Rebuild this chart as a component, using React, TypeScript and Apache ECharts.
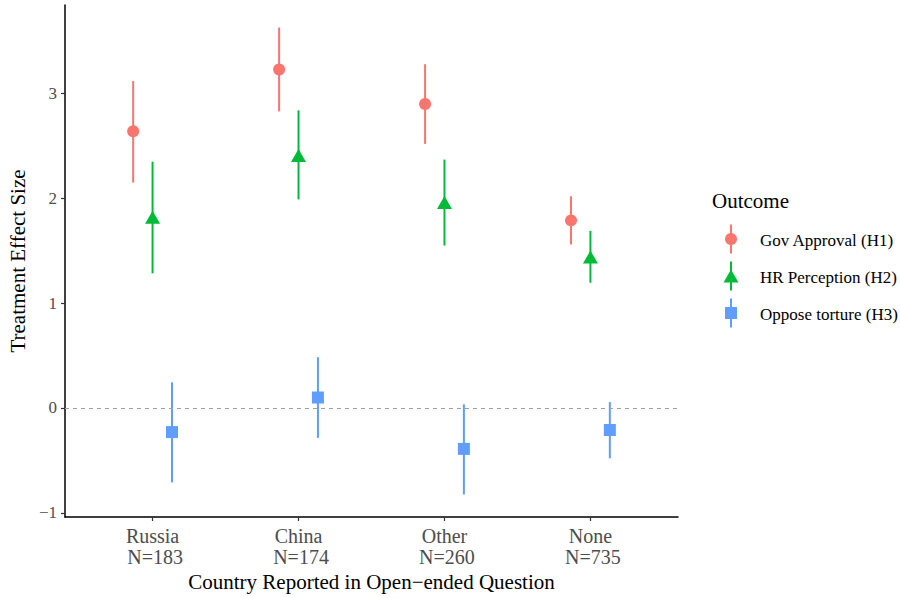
import React, { useEffect, useRef } from "react";
import * as echarts from "echarts";

const categories = ["Russia", "China", "Other", "None"];
const sampleSizes = ["N=183", "N=174", "N=260", "N=735"];
const outcomes = ["Gov Approval (H1)", "HR Perception (H2)", "Oppose torture (H3)"];

const govEst = [2.64, 3.23, 2.9, 1.79];
const govLo = [2.15, 2.83, 2.52, 1.56];
const govHi = [3.12, 3.63, 3.28, 2.02];

const hrEst = [1.82, 2.41, 1.96, 1.44];
const hrLo = [1.285, 1.99, 1.55, 1.195];
const hrHi = [2.35, 2.84, 2.37, 1.69];

const tortEst = [-0.23, 0.1, -0.39, -0.21];
const tortLo = [-0.71, -0.285, -0.825, -0.48];
const tortHi = [0.245, 0.485, 0.035, 0.057];

const yTicks = [-1, 0, 1, 2, 3];
const xTicks = [1, 2, 3, 4];

const colors = ["#F8766D", "#00BA38", "#619CFF"];
const symbols = ["circle", "triangle", "rect"];
const symbolSizes: any[] = [12, [15, 13], 12];
const dodge = [-0.133, 0, 0.133];
const FONT = "'Liberation Serif', 'DejaVu Serif', serif";

export default function App() {
  const ref = useRef<HTMLDivElement>(null);
  useEffect(() => {
    if (!ref.current) return;
    const chart = echarts.init(ref.current, null, { renderer: "svg" });
    const groups = [
      { est: govEst, lo: govLo, hi: govHi },
      { est: hrEst, lo: hrLo, hi: hrHi },
      { est: tortEst, lo: tortLo, hi: tortHi },
    ];
    const series: any[] = [];
    groups.forEach((g, gi) => {
      series.push({
        type: "custom",
        name: outcomes[gi] + " CI",
        z: 2,
        silent: true,
        data: categories.map((_, i) => [i + 1 + dodge[gi], g.lo[i], g.hi[i]]),
        encode: { x: 0, y: [1, 2] },
        renderItem: (params: any, api: any) => {
          const p1 = api.coord([api.value(0), api.value(1)]);
          const p2 = api.coord([api.value(0), api.value(2)]);
          return {
            type: "line",
            shape: { x1: p1[0], y1: p1[1], x2: p2[0], y2: p2[1] },
            style: { stroke: colors[gi], lineWidth: 2 },
          };
        },
      });
      series.push({
        type: "scatter",
        name: outcomes[gi],
        z: 3,
        symbol: symbols[gi],
        symbolSize: symbolSizes[gi],
        itemStyle: { color: colors[gi], opacity: 1 },
        data: categories.map((_, i) => [i + 1 + dodge[gi], g.est[i]]),
        ...(gi === 0
          ? {
              markLine: {
                silent: true,
                symbol: "none",
                label: { show: false },
                lineStyle: { type: [4, 4], color: "#A0A0A0", width: 1 },
                data: [{ yAxis: 0 }],
              },
            }
          : {}),
      });
    });

    const legendGraphics: any[] = [];
    const kx = 731;
    const rows = [239, 276, 313];
    legendGraphics.push({
      type: "text",
      left: 712,
      top: 190,
      style: { text: "Outcome", font: `21px ${FONT}`, fill: "#000" },
    });
    outcomes.forEach((o, i) => {
      const c = rows[i];
      legendGraphics.push({
        type: "line",
        shape: { x1: kx, y1: c - 14.5, x2: kx, y2: c + 14.5 },
        style: { stroke: colors[i], lineWidth: 2 },
      });
      if (i === 0) {
        legendGraphics.push({
          type: "circle",
          shape: { cx: kx, cy: c, r: 6 },
          style: { fill: colors[i] },
        });
      } else if (i === 1) {
        legendGraphics.push({
          type: "polygon",
          shape: {
            points: [
              [kx - 7.5, c + 6.5],
              [kx + 7.5, c + 6.5],
              [kx, c - 6.5],
            ],
          },
          style: { fill: colors[i] },
        });
      } else {
        legendGraphics.push({
          type: "rect",
          shape: { x: kx - 6, y: c - 6, width: 12, height: 12 },
          style: { fill: colors[i] },
        });
      }
      legendGraphics.push({
        type: "text",
        x: 760,
        y: c + 1.5,
        style: {
          text: o,
          font: `17px ${FONT}`,
          fill: "#000",
          verticalAlign: "middle",
          align: "left",
        },
      });
    });

    chart.setOption({
      animation: false,
      textStyle: { fontFamily: FONT },
      grid: {
        left: 65,
        right: 222,
        top: 5,
        bottom: 81,
        containLabel: false,
        outerBoundsMode: "none",
      },
      xAxis: {
        type: "value",
        min: 0.4,
        max: 4.6,
        name: "Country Reported in Open\u2212ended Question",
        nameLocation: "middle",
        nameGap: 41,
        nameTextStyle: { fontSize: 21, color: "#000", fontFamily: FONT },
        splitLine: { show: false },
        axisLine: { show: true, onZero: false, lineStyle: { color: "#000", width: 1.5 } },
        axisTick: { show: true, customValues: xTicks, length: 4, lineStyle: { color: "#333", width: 1.2 } },
        axisLabel: {
          customValues: xTicks,
          margin: 8,
          fontSize: 20,
          lineHeight: 21,
          color: "#4D4D4D",
          fontFamily: FONT,
          formatter: (v: number) => {
            const i = Math.round(v) - 1;
            return categories[i] + "\n " + sampleSizes[i];
          },
        },
      },
      yAxis: {
        type: "value",
        min: -1.04,
        max: 3.845,
        name: "Treatment Effect Size",
        nameLocation: "middle",
        nameGap: 37,
        nameTextStyle: { fontSize: 21, color: "#000", fontFamily: FONT },
        splitLine: { show: false },
        axisLine: { show: true, onZero: false, lineStyle: { color: "#000", width: 1.5 } },
        axisTick: { show: true, customValues: yTicks, length: 4, lineStyle: { color: "#333", width: 1.2 } },
        axisLabel: {
          customValues: yTicks,
          margin: 8,
          fontSize: 17,
          color: "#4D4D4D",
          fontFamily: FONT,
          formatter: (v: number) => (v < 0 ? "\u2212" + Math.abs(v) : String(v)),
        },
      },
      graphic: legendGraphics,
      series,
    });
    return () => chart.dispose();
  }, []);
  return <div ref={ref} style={{ width: 900, height: 598, position: "absolute", left: 0, top: 0, background: "#fff" }} />;
}
